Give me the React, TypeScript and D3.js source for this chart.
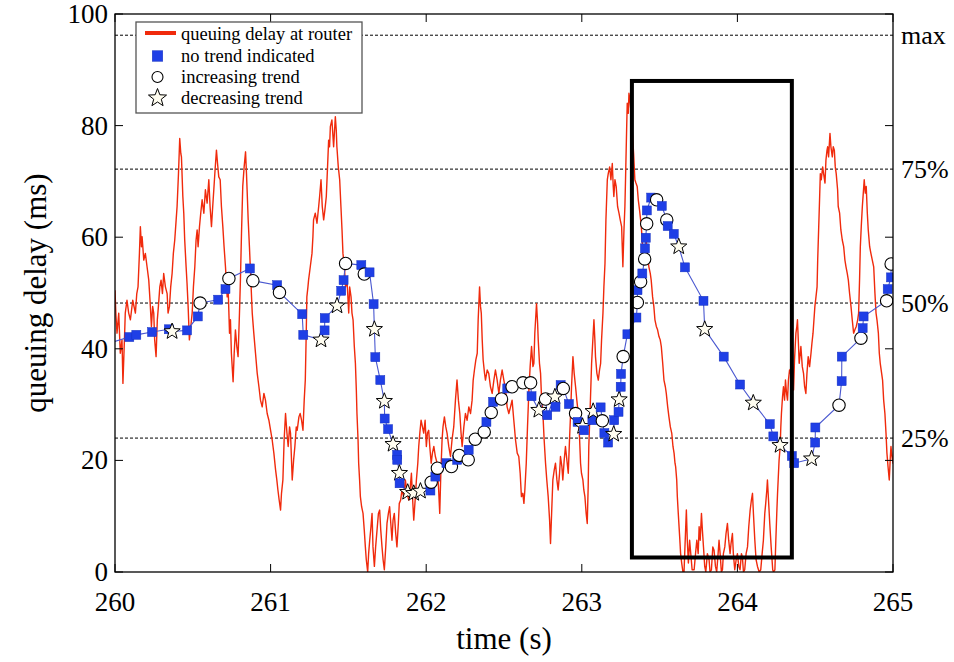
import React from 'react';
import * as d3 from 'd3';

const W = 954;
const H = 662;
const PLOT = { left: 115, right: 893, top: 14, bottom: 572 };

const xDomain: [number, number] = [260, 265];
const yDomain: [number, number] = [0, 100];
const xTicks = [260, 261, 262, 263, 264, 265];
const yTicks = [0, 20, 40, 60, 80, 100];

const refLabels = ['max', '75%', '50%', '25%'];
const refValues = [96.2, 72.2, 48.2, 24.0];

const legendLabels = ['queuing delay at router', 'no trend indicated', 'increasing trend', 'decreasing trend'];

// highlighted interval (time from, time to, delay low, delay high)
const highlightT = [263.322, 264.35];
const highlightY = [2.6, 88.0];

// queuing delay at router: [time (s), delay (ms)]
const delayTrace: [number, number][] = [
  [260.000,50.5],[260.006,46.0],[260.013,42.8],[260.024,46.4],[260.034,39.2],[260.045,41.6],[260.051,33.8],[260.062,42.8],
  [260.066,46.4],[260.077,48.7],[260.088,46.4],[260.099,45.2],[260.114,48.7],[260.131,46.4],[260.140,49.9],[260.148,51.1],
  [260.157,57.1],[260.163,61.9],[260.170,58.3],[260.174,60.1],[260.185,55.9],[260.195,57.1],[260.206,54.7],[260.217,52.3],
  [260.225,48.7],[260.234,44.0],[260.242,47.6],[260.249,46.4],[260.255,41.6],[260.264,38.6],[260.272,45.2],[260.279,47.6],
  [260.288,51.1],[260.296,52.3],[260.305,49.9],[260.313,53.5],[260.324,51.1],[260.335,49.9],[260.341,46.4],[260.350,47.6],
  [260.358,51.1],[260.367,53.5],[260.375,57.1],[260.384,59.5],[260.393,63.1],[260.399,65.5],[260.408,71.4],[260.416,77.7],
  [260.423,75.0],[260.427,74.4],[260.436,67.3],[260.442,64.3],[260.448,59.5],[260.457,54.7],[260.463,51.7],[260.470,47.6],
  [260.478,41.6],[260.487,44.0],[260.496,46.4],[260.504,51.1],[260.513,54.7],[260.521,59.5],[260.528,61.3],[260.534,58.3],
  [260.543,61.9],[260.551,64.3],[260.560,66.7],[260.571,64.3],[260.581,68.5],[260.592,66.1],[260.603,70.3],[260.611,65.5],
  [260.620,61.9],[260.628,65.5],[260.635,68.5],[260.643,72.0],[260.652,75.6],[260.659,73.2],[260.667,70.8],[260.676,70.3],
  [260.684,65.5],[260.693,61.9],[260.701,58.3],[260.710,54.7],[260.721,49.3],[260.727,51.1],[260.736,42.8],[260.742,45.2],
  [260.748,39.2],[260.759,34.1],[260.766,39.2],[260.774,43.4],[260.783,40.4],[260.791,38.6],[260.800,46.4],[260.806,52.3],
  [260.813,60.7],[260.821,69.1],[260.830,72.6],[260.839,75.3],[260.845,71.4],[260.849,68.5],[260.856,63.1],[260.864,58.3],
  [260.873,52.3],[260.882,46.4],[260.892,42.8],[260.903,39.2],[260.914,35.6],[260.925,33.2],[260.935,30.8],[260.946,29.6],
  [260.957,32.0],[260.967,30.8],[260.978,28.4],[260.989,27.2],[261.000,25.4],[261.010,23.7],[261.021,21.3],[261.032,18.3],
  [261.040,16.5],[261.047,14.7],[261.055,12.9],[261.064,11.1],[261.070,14.1],[261.079,16.5],[261.087,23.7],[261.096,28.4],
  [261.105,24.9],[261.113,22.5],[261.122,26.0],[261.128,24.9],[261.139,16.5],[261.148,20.1],[261.156,22.5],[261.165,26.0],
  [261.171,25.4],[261.182,27.8],[261.190,28.4],[261.199,27.2],[261.208,25.4],[261.216,30.8],[261.223,34.4],[261.229,42.8],
  [261.233,49.3],[261.240,51.1],[261.244,52.3],[261.255,54.7],[261.266,57.1],[261.272,60.1],[261.276,63.1],[261.287,64.3],
  [261.298,62.5],[261.309,65.5],[261.315,67.3],[261.324,70.3],[261.332,65.5],[261.341,63.1],[261.349,64.9],[261.358,67.3],
  [261.366,72.6],[261.373,77.4],[261.379,76.2],[261.384,79.8],[261.394,81.0],[261.405,76.2],[261.416,81.6],[261.422,79.2],
  [261.426,76.2],[261.435,72.6],[261.444,70.3],[261.452,65.5],[261.459,61.3],[261.465,57.1],[261.474,54.7],[261.482,51.1],
  [261.491,52.3],[261.502,46.4],[261.508,51.1],[261.517,49.3],[261.523,46.4],[261.530,45.2],[261.538,40.4],[261.545,37.4],
  [261.551,32.6],[261.555,28.4],[261.562,23.7],[261.566,19.5],[261.572,16.5],[261.577,13.5],[261.585,11.7],[261.594,10.5],
  [261.602,7.5],[261.609,4.5],[261.615,2.2],[261.624,0],[261.630,3.3],[261.637,5.7],[261.645,8.1],[261.652,10.5],
  [261.658,4.5],[261.667,1.0],[261.675,4.5],[261.684,7.5],[261.693,10.5],[261.701,11.1],[261.708,7.5],[261.716,4.5],
  [261.723,2.2],[261.731,0.4],[261.740,4.5],[261.748,8.7],[261.757,10.5],[261.765,11.7],[261.774,8.1],[261.780,5.7],
  [261.787,9.3],[261.795,10.5],[261.804,6.9],[261.812,4.5],[261.821,8.7],[261.827,12.3],[261.836,12.9],[261.844,14.7],
  [261.855,13.5],[261.866,16.5],[261.877,14.1],[261.888,12.9],[261.898,15.3],[261.905,17.7],[261.913,12.9],[261.920,9.3],
  [261.929,12.9],[261.937,16.5],[261.946,19.5],[261.952,22.5],[261.959,24.9],[261.967,27.2],[261.976,26.0],[261.984,24.9],
  [261.993,27.2],[262.001,22.5],[262.008,24.9],[262.016,25.4],[262.023,22.5],[262.032,19.5],[262.040,21.3],[262.049,22.5],
  [262.059,20.7],[262.070,19.5],[262.079,15.3],[262.087,10.5],[262.094,17.7],[262.102,23.7],[262.108,26.0],[262.117,27.8],
  [262.126,26.0],[262.134,24.9],[262.145,22.5],[262.156,20.7],[262.166,23.7],[262.177,26.0],[262.188,30.8],[262.198,34.4],
  [262.207,30.8],[262.216,28.4],[262.224,24.9],[262.231,22.5],[262.242,26.0],[262.252,28.4],[262.263,27.2],[262.274,29.6],
  [262.285,28.4],[262.295,30.8],[262.302,34.4],[262.310,36.2],[262.319,38.0],[262.328,39.2],[262.334,45.2],[262.343,51.1],
  [262.349,47.6],[262.354,46.4],[262.360,41.6],[262.366,38.0],[262.375,35.6],[262.381,34.4],[262.392,36.2],[262.402,35.6],
  [262.413,33.2],[262.424,32.0],[262.435,34.4],[262.445,36.2],[262.456,34.4],[262.467,32.0],[262.477,34.4],[262.488,36.2],
  [262.499,34.4],[262.510,32.6],[262.520,29.6],[262.531,28.4],[262.542,29.6],[262.552,30.8],[262.563,27.2],[262.574,23.7],
  [262.585,21.3],[262.595,20.7],[262.604,17.7],[262.612,13.5],[262.621,14.1],[262.628,12.3],[262.634,14.7],[262.643,19.5],
  [262.651,26.0],[262.660,32.6],[262.668,36.8],[262.677,40.4],[262.686,36.8],[262.692,37.4],[262.698,42.8],[262.703,45.2],
  [262.709,48.1],[262.716,44.6],[262.720,41.6],[262.728,37.4],[262.735,35.6],[262.741,31.4],[262.750,28.4],[262.758,23.7],
  [262.767,19.5],[262.775,16.5],[262.784,13.5],[262.793,9.3],[262.799,5.1],[262.806,10.5],[262.814,16.5],[262.823,18.3],
  [262.831,19.5],[262.840,16.5],[262.848,14.7],[262.857,17.7],[262.863,20.7],[262.872,18.9],[262.878,16.5],[262.887,20.1],
  [262.895,22.5],[262.904,20.1],[262.913,17.7],[262.921,23.7],[262.928,28.4],[262.934,33.2],[262.943,38.6],[262.951,35.6],
  [262.960,33.2],[262.968,30.8],[262.977,28.4],[262.986,23.7],[262.992,19.5],[262.998,17.7],[263.007,16.5],[263.013,14.7],
  [263.020,13.5],[263.028,10.5],[263.035,8.7],[263.041,15.3],[263.045,22.5],[263.054,29.6],[263.063,37.4],[263.071,41.6],
  [263.078,45.2],[263.084,41.6],[263.088,38.6],[263.097,35.6],[263.106,34.4],[263.114,36.2],[263.121,37.4],[263.127,41.6],
  [263.136,46.4],[263.142,51.1],[263.149,55.3],[263.155,63.1],[263.164,70.3],[263.170,71.4],[263.179,72.6],[263.187,70.3],
  [263.196,73.2],[263.202,69.1],[263.206,67.3],[263.213,70.3],[263.221,69.1],[263.230,65.5],[263.239,64.3],[263.247,63.1],
  [263.256,61.9],[263.260,58.3],[263.264,54.7],[263.271,61.3],[263.277,65.5],[263.281,70.3],[263.288,79.2],[263.292,84.0],
  [263.299,82.2],[263.303,85.8],[263.309,84.6],[263.313,83.4],[263.320,81.6],[263.324,79.2],[263.333,75.0],[263.341,70.3],
  [263.348,69.7],[263.356,69.1],[263.363,66.7],[263.371,64.9],[263.378,63.1],[263.384,61.3],[263.393,57.1],[263.399,55.3],
  [263.406,57.7],[263.414,59.5],[263.423,56.5],[263.431,54.7],[263.440,53.5],[263.446,52.3],[263.455,49.3],[263.463,47.6],
  [263.470,45.2],[263.479,44.0],[263.487,43.4],[263.496,42.2],[263.504,41.6],[263.511,40.4],[263.520,37.4],[263.528,34.4],
  [263.537,33.2],[263.543,32.0],[263.552,29.6],[263.560,27.8],[263.569,26.0],[263.578,24.9],[263.586,22.5],[263.593,21.3],
  [263.599,19.5],[263.603,18.9],[263.610,16.5],[263.614,13.5],[263.620,10.5],[263.629,6.3],[263.635,3.3],[263.642,1.6],
  [263.650,0],[263.657,0],[263.663,4.5],[263.672,11.1],[263.678,5.7],[263.685,1.6],[263.693,5.7],[263.709,0.4],
  [263.722,0.4],[263.731,3.3],[263.739,5.7],[263.748,3.3],[263.754,8.1],[263.761,5.7],[263.769,10.5],[263.775,7.5],
  [263.782,4.5],[263.790,1.0],[263.797,0],[263.807,3.3],[263.818,2.2],[263.824,0],[263.833,0.4],[263.842,4.5],
  [263.850,3.9],[263.859,1.0],[263.867,0],[263.876,3.3],[263.882,5.7],[263.889,3.3],[263.897,0],[263.904,0.4],
  [263.910,3.3],[263.919,4.5],[263.927,6.9],[263.936,8.7],[263.944,5.7],[263.953,3.3],[263.959,5.1],[263.968,6.9],
  [263.974,3.3],[263.983,0.4],[263.992,2.2],[264.000,3.3],[264.009,1.0],[264.017,0.4],[264.026,3.3],[264.032,2.7],
  [264.039,0],[264.047,0.4],[264.056,3.3],[264.065,4.5],[264.073,8.1],[264.082,11.1],[264.090,12.9],[264.097,14.1],
  [264.103,10.5],[264.112,5.7],[264.120,2.2],[264.129,1.0],[264.140,0],[264.150,0.4],[264.159,3.3],[264.167,5.7],
  [264.176,10.5],[264.182,12.3],[264.189,14.7],[264.193,16.5],[264.200,12.9],[264.208,8.7],[264.217,4.5],[264.227,0.4],
  [264.232,0],[264.241,0.4],[264.247,5.7],[264.253,10.5],[264.258,14.1],[264.262,16.5],[264.268,20.1],[264.275,22.5],
  [264.279,26.0],[264.283,28.4],[264.290,31.4],[264.296,33.2],[264.303,30.8],[264.309,34.4],[264.316,32.0],[264.322,30.8],
  [264.328,34.4],[264.335,36.2],[264.341,35.6],[264.348,40.4],[264.354,36.8],[264.361,32.6],[264.367,38.0],[264.376,42.8],
  [264.382,44.0],[264.386,45.2],[264.393,40.4],[264.397,37.4],[264.404,39.2],[264.408,40.4],[264.417,36.8],[264.425,35.6],
  [264.432,33.2],[264.440,32.0],[264.447,35.6],[264.455,38.6],[264.464,36.8],[264.473,39.2],[264.479,41.0],[264.486,42.8],
  [264.492,45.2],[264.498,47.6],[264.505,49.3],[264.512,51.1],[264.516,55.9],[264.522,61.3],[264.528,66.7],[264.533,71.4],
  [264.539,70.3],[264.548,72.6],[264.554,71.4],[264.563,69.7],[264.569,73.8],[264.576,75.6],[264.580,76.2],[264.586,74.4],
  [264.595,78.6],[264.601,76.2],[264.610,74.4],[264.616,76.2],[264.623,75.6],[264.629,72.6],[264.635,71.4],[264.644,68.5],
  [264.648,65.5],[264.657,64.3],[264.665,61.3],[264.674,59.5],[264.683,58.3],[264.691,55.9],[264.698,54.7],[264.706,53.5],
  [264.713,52.3],[264.721,49.9],[264.730,47.6],[264.738,45.2],[264.747,42.8],[264.755,43.4],[264.764,44.0],[264.773,45.2],
  [264.779,46.4],[264.785,52.3],[264.790,58.3],[264.796,61.9],[264.803,65.5],[264.809,67.9],[264.815,70.3],[264.822,67.9],
  [264.828,69.1],[264.835,64.3],[264.841,61.3],[264.850,58.3],[264.858,57.1],[264.867,55.9],[264.876,54.7],[264.884,49.9],
  [264.891,46.4],[264.897,45.2],[264.906,42.8],[264.912,39.2],[264.918,37.4],[264.927,35.6],[264.933,34.4],[264.940,30.8],
  [264.948,28.4],[264.955,24.9],[264.961,21.3],[264.968,18.9],[264.976,16.5],[264.983,20.7],[264.987,22.5],[264.993,20.7],
  [265.000,19.5],[265.008,23.7],
];

// trend estimator output: [time (s), delay (ms), kind] n = no trend, i = increasing, d = decreasing
const trendSamples: [number, number, string][] = [
  [259.96,41.0,'n'],[260.092,42.1,'n'],[260.137,42.5,'n'],[260.238,43.0,'n'],[260.346,43.5,'n'],[260.367,43.1,'d'],
  [260.463,43.3,'n'],[260.532,45.8,'n'],[260.547,48.2,'i'],[260.663,48.8,'n'],[260.710,50.7,'n'],[260.732,52.6,'i'],
  [260.867,54.4,'n'],[260.886,52.2,'i'],[261.042,51.4,'n'],[261.057,50.1,'i'],[261.203,46.2,'n'],[261.210,42.5,'n'],
  [261.324,41.6,'d'],[261.347,43.3,'n'],[261.348,45.5,'n'],[261.427,47.7,'d'],[261.454,50.4,'n'],[261.469,52.3,'n'],
  [261.482,55.3,'i'],[261.583,55.0,'n'],[261.602,53.4,'i'],[261.636,53.7,'n'],[261.662,48.0,'n'],[261.667,43.5,'d'],
  [261.673,38.5,'n'],[261.705,34.4,'n'],[261.731,30.6,'d'],[261.733,27.5,'n'],[261.755,25.6,'n'],[261.787,22.9,'d'],
  [261.813,21.0,'n'],[261.814,20.1,'n'],[261.828,17.7,'d'],[261.829,15.9,'n'],[261.881,14.3,'d'],[261.920,14.1,'d'],
  [261.963,14.5,'d'],[262.027,14.6,'n'],[262.032,16.1,'i'],[262.059,17.1,'n'],[262.072,18.6,'i'],[262.130,19.5,'n'],
  [262.162,18.9,'i'],[262.199,20.1,'n'],[262.212,20.9,'i'],[262.270,20.1,'i'],[262.273,21.9,'n'],[262.315,23.8,'i'],
  [262.373,25.1,'i'],[262.387,26.9,'n'],[262.418,28.6,'i'],[262.430,30.5,'n'],[262.484,31.0,'i'],[262.521,32.9,'n'],
  [262.552,33.2,'i'],[262.622,33.9,'i'],[262.671,33.9,'i'],[262.677,31.5,'n'],[262.724,29.0,'d'],[262.767,31.0,'i'],
  [262.778,28.1,'n'],[262.827,31.4,'d'],[262.831,29.6,'n'],[262.864,33.5,'n'],[262.881,32.9,'i'],[262.917,30.1,'n'],
  [262.960,28.4,'i'],[262.973,26.9,'n'],[263.005,26.1,'d'],[263.014,25.4,'n'],[263.068,27.2,'n'],[263.073,28.8,'d'],
  [263.121,29.5,'n'],[263.132,27.1,'i'],[263.145,24.9,'n'],[263.169,23.2,'n'],[263.205,24.7,'d'],[263.208,27.2,'n'],
  [263.236,28.7,'n'],[263.240,30.9,'d'],[263.250,33.2,'n'],[263.252,35.5,'n'],[263.266,38.6,'i'],[263.293,42.6,'n'],
  [263.351,45.6,'n'],[263.357,48.3,'i'],[263.358,50.5,'n'],[263.378,52.0,'i'],[263.389,53.5,'n'],[263.404,56.1,'i'],
  [263.406,58.0,'n'],[263.411,59.9,'n'],[263.417,62.4,'i'],[263.418,64.8,'n'],[263.446,67.1,'n'],[263.481,66.7,'i'],
  [263.514,65.6,'n'],[263.546,63.1,'i'],[263.552,62.0,'n'],[263.591,60.6,'n'],[263.623,58.3,'d'],[263.663,54.6,'n'],
  [263.782,48.6,'n'],[263.790,43.5,'d'],[263.912,38.6,'n'],[264.017,33.6,'n'],[264.102,30.3,'d'],[264.208,26.5,'n'],
  [264.231,24.3,'n'],[264.274,22.7,'d'],[264.350,20.8,'n'],[264.365,19.5,'n'],[264.477,20.3,'d'],[264.500,23.2,'n'],
  [264.501,25.9,'n'],[264.653,29.9,'i'],[264.670,34.2,'n'],[264.671,38.6,'n'],[264.794,41.9,'i'],[264.805,43.7,'n'],
  [264.811,45.8,'n'],[264.959,48.6,'i'],[264.966,50.7,'n'],[264.987,52.8,'n'],[264.988,55.2,'i'],
];

const FONT = '"Liberation Serif", "Times New Roman", Times, serif';
const RED = '#f02a0c';
const BLUE = '#1f3fe6';
const BLUE_LINE = '#4a58d0';
const STAR_FILL = '#fffdf0';

function starPath(cx: number, cy: number, R: number, ratio = 0.42): string {
  const pts: [number, number][] = d3.range(10).map((i) => {
    const a = -Math.PI / 2 + (i * Math.PI) / 5;
    const r = i % 2 === 0 ? R : R * ratio;
    return [cx + r * Math.cos(a), cy + r * Math.sin(a)];
  });
  return 'M' + pts.map((p) => p.join(',')).join('L') + 'Z';
}

function Marker({ kind, cx, cy, legend = false }: { kind: string; cx: number; cy: number; legend?: boolean }) {
  if (kind === 'n') {
    const s = legend ? 10.5 : 9;
    return <rect x={cx - s / 2} y={cy - s / 2} width={s} height={s} fill={BLUE} stroke="#1530c0" strokeWidth={0.5} />;
  }
  if (kind === 'i') {
    return <circle cx={cx} cy={cy} r={legend ? 5.5 : 6.2} fill="#fff" stroke="#000" strokeWidth={1.1} />;
  }
  return <path d={starPath(cx, cy, legend ? 9.5 : 8.5)} fill={STAR_FILL} stroke="#000" strokeWidth={1} strokeLinejoin="miter" />;
}

export default function App() {
  const x = d3.scaleLinear().domain(xDomain).range([PLOT.left, PLOT.right]);
  const y = d3.scaleLinear().domain(yDomain).range([PLOT.bottom, PLOT.top]);

  const line = d3
    .line<[number, number]>()
    .x((d) => x(d[0]))
    .y((d) => y(d[1]));
  const trendLine = d3
    .line<[number, number, string]>()
    .x((d) => x(d[0]))
    .y((d) => y(d[1]));

  const tickLen = 8;
  const legendRowsY = [40, 62, 83, 104];
  const legendKinds = ['line', 'n', 'i', 'd'];

  return (
    <svg
      width={W}
      height={H}
      viewBox={`0 0 ${W} ${H}`}
      style={{ position: 'absolute', left: 0, top: 0, background: '#fff' }}
      fontFamily={FONT}
    >
      <defs>
        <clipPath id="plotClip">
          <rect x={PLOT.left} y={PLOT.top} width={PLOT.right - PLOT.left} height={PLOT.bottom - PLOT.top} />
        </clipPath>
      </defs>
      <rect x={0} y={0} width={W} height={H} fill="#fff" />

      {/* reference lines */}
      {refValues.map((v, i) => (
        <g key={refLabels[i]}>
          <line
            x1={PLOT.left}
            x2={PLOT.right}
            y1={y(v)}
            y2={y(v)}
            stroke="#000"
            strokeWidth={1}
            strokeDasharray="3,2"
          />
          <text x={PLOT.right + 8} y={y(v) + 9} fontSize={26} fill="#000">
            {refLabels[i]}
          </text>
        </g>
      ))}

      <g clipPath="url(#plotClip)">
        <path d={line(delayTrace) ?? ''} fill="none" stroke={RED} strokeWidth={1.4} strokeLinejoin="round" />
        <path d={trendLine(trendSamples) ?? ''} fill="none" stroke={BLUE_LINE} strokeWidth={1.1} />
        {trendSamples.map((d, i) => (
          <Marker key={i} kind={d[2]} cx={x(d[0])} cy={y(d[1])} />
        ))}
      </g>

      {/* highlight box */}
      <rect
        x={x(highlightT[0])}
        y={y(highlightY[1])}
        width={x(highlightT[1]) - x(highlightT[0])}
        height={y(highlightY[0]) - y(highlightY[1])}
        fill="none"
        stroke="#000"
        strokeWidth={4}
      />

      {/* frame */}
      <rect
        x={PLOT.left}
        y={PLOT.top}
        width={PLOT.right - PLOT.left}
        height={PLOT.bottom - PLOT.top}
        fill="none"
        stroke="#000"
        strokeWidth={1.3}
      />

      {/* ticks */}
      {xTicks.map((t) => (
        <g key={'x' + t}>
          <line x1={x(t)} x2={x(t)} y1={PLOT.bottom} y2={PLOT.bottom - tickLen} stroke="#000" strokeWidth={1} />
          <line x1={x(t)} x2={x(t)} y1={PLOT.top} y2={PLOT.top + tickLen} stroke="#000" strokeWidth={1} />
          <text x={x(t)} y={611} fontSize={27} textAnchor="middle" fill="#000">
            {t}
          </text>
        </g>
      ))}
      {yTicks.map((t) => (
        <g key={'y' + t}>
          <line x1={PLOT.left} x2={PLOT.left + tickLen} y1={y(t)} y2={y(t)} stroke="#000" strokeWidth={1} />
          <line x1={PLOT.right} x2={PLOT.right - tickLen} y1={y(t)} y2={y(t)} stroke="#000" strokeWidth={1} />
          <text x={PLOT.left - 7} y={y(t) + 9} fontSize={27} textAnchor="end" fill="#000">
            {t}
          </text>
        </g>
      ))}

      {/* axis titles */}
      <text x={(PLOT.left + PLOT.right) / 2} y={649} fontSize={31} textAnchor="middle" fill="#000">
        time (s)
      </text>
      <text
        transform={`translate(46, ${(PLOT.top + PLOT.bottom) / 2}) rotate(-90)`}
        fontSize={31}
        textAnchor="middle"
        fill="#000"
      >
        queuing delay (ms)
      </text>

      {/* legend */}
      <g>
        <rect x={136} y={22} width={226} height={91} fill="#fff" stroke="#555" strokeWidth={1.3} />
        {legendLabels.map((lab, i) => {
          const cy = legendRowsY[i] - 6;
          const kind = legendKinds[i];
          return (
            <g key={lab}>
              {kind === 'line' ? (
                <line x1={145} x2={176} y1={cy - 1} y2={cy - 1} stroke={RED} strokeWidth={4} />
              ) : (
                <Marker kind={kind} cx={157.5} cy={cy} legend />
              )}
              <text x={181} y={legendRowsY[i]} fontSize={18.5} fill="#000">
                {lab}
              </text>
            </g>
          );
        })}
      </g>
    </svg>
  );
}
